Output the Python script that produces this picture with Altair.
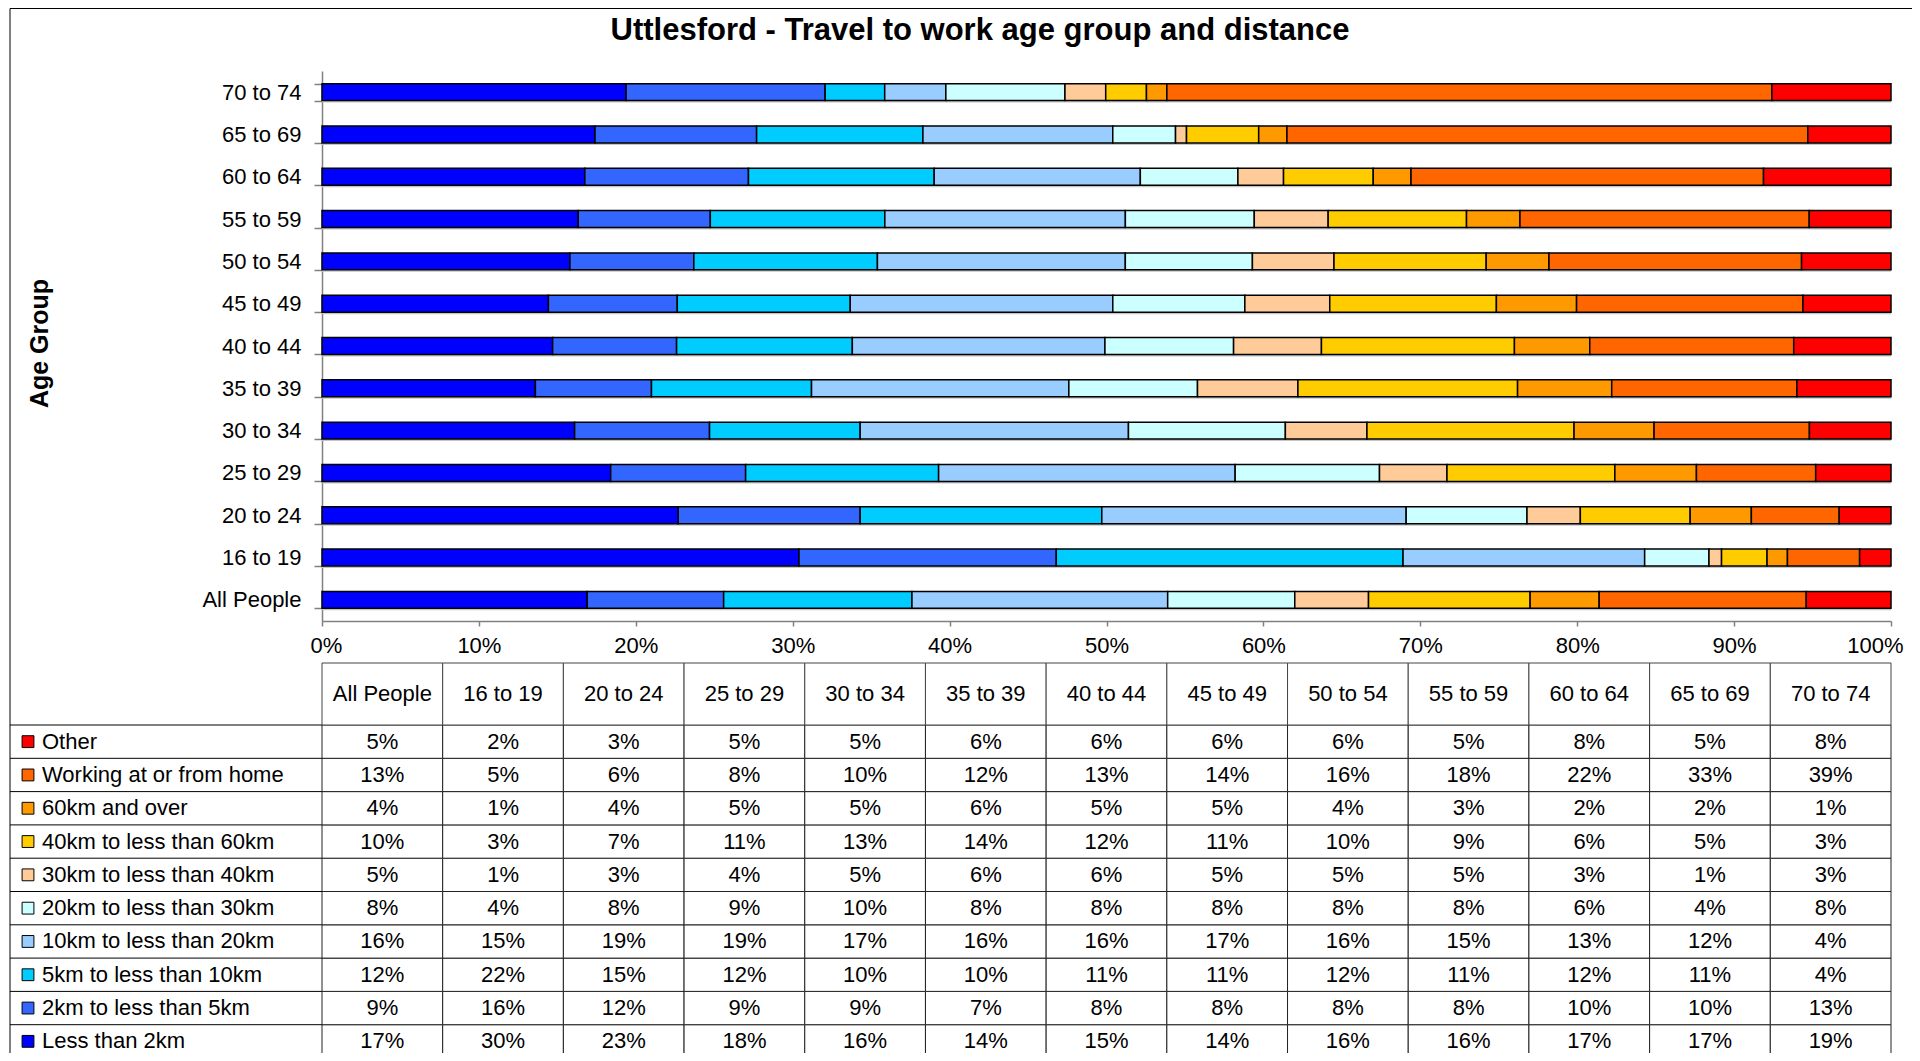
import altair as alt
import pandas as pd

ages = ["All People", "16 to 19", "20 to 24", "25 to 29", "30 to 34", "35 to 39",
        "40 to 44", "45 to 49", "50 to 54", "55 to 59", "60 to 64", "65 to 69", "70 to 74"]
categories = ["Less than 2km", "2km to less than 5km", "5km to less than 10km",
              "10km to less than 20km", "20km to less than 30km", "30km to less than 40km",
              "40km to less than 60km", "60km and over", "Working at or from home", "Other"]
colors = ["#0000FF", "#3366FF", "#00CCFF", "#99CCFF", "#CCFFFF", "#FFCC99",
          "#FFCC00", "#FF9900", "#FF6600", "#FF0000"]

# percentages per category, in the order of `ages`
less_than_2km = [16.9, 30.4, 22.7, 18.4, 16.1, 13.6, 14.7, 14.4, 15.8, 16.3, 16.7, 17.4, 19.4]
km_2_to_5 = [8.7, 16.4, 11.6, 8.6, 8.6, 7.4, 7.9, 8.2, 7.9, 8.4, 10.4, 10.3, 12.7]
km_5_to_10 = [12.0, 22.1, 15.4, 12.3, 9.6, 10.2, 11.2, 11.0, 11.7, 11.1, 11.8, 10.6, 3.8]
km_10_to_20 = [16.3, 15.4, 19.4, 18.9, 17.1, 16.4, 16.1, 16.7, 15.8, 15.3, 13.1, 12.1, 3.9]
km_20_to_30 = [8.1, 4.1, 7.7, 9.2, 10.0, 8.2, 8.2, 8.4, 8.1, 8.2, 6.2, 4.0, 7.6]
km_30_to_40 = [4.7, 0.8, 3.4, 4.3, 5.2, 6.4, 5.6, 5.4, 5.2, 4.7, 2.9, 0.7, 2.6]
km_40_to_60 = [10.3, 2.9, 7.0, 10.7, 13.2, 14.0, 12.3, 10.6, 9.7, 8.8, 5.7, 4.6, 2.6]
km_60_plus = [4.4, 1.3, 3.9, 5.2, 5.1, 6.0, 4.8, 5.1, 4.0, 3.4, 2.4, 1.8, 1.3]
home = [13.2, 4.6, 5.6, 7.6, 9.9, 11.8, 13.0, 14.4, 16.1, 18.4, 22.4, 33.2, 38.6]
other = [5.4, 2.0, 3.3, 4.8, 5.2, 6.0, 6.2, 5.6, 5.7, 5.2, 8.1, 5.3, 7.6]

series = [less_than_2km, km_2_to_5, km_5_to_10, km_10_to_20, km_20_to_30,
          km_30_to_40, km_40_to_60, km_60_plus, home, other]
x_ticks = [0, 0.1, 0.2, 0.3, 0.4, 0.5, 0.6, 0.7, 0.8, 0.9, 1.0]
title_text = "Uttlesford - Travel to work age group and distance"

rows = []
for ci, (cat, vals) in enumerate(zip(categories, series)):
    for age, v in zip(ages, vals):
        rows.append({"age": age, "category": cat, "order": ci, "value": v})
df = pd.DataFrame(rows)

W = 1569
H = 982
BAR_H = 550
HEAD_TOP, HEAD_BOTTOM = 592, 654
TABLE_BOTTOM = 987
FONT = "Liberation Sans"
GRAY = "#808080"
FS = 22

color_enc = alt.Color("category:N", scale=alt.Scale(domain=categories, range=colors), legend=None)
bx_scale = alt.Scale(domain=[0, 1])
by_scale = alt.Scale(domain=ages[::-1], range=[0, BAR_H], paddingInner=0.6, paddingOuter=0.3)

x_axis = alt.Axis(format=".0%", values=x_ticks, offset=BAR_H - H,
                  labelFlush=True, labelFlushOffset=12,
                  grid=False, domainColor=GRAY, domainWidth=1.5, tickColor=GRAY,
                  tickWidth=1.5, tickSize=5, labelFontSize=FS, labelPadding=9,
                  labelColor="black", title=None)
y_axis = alt.Axis(title="Age Group", labelFontSize=FS, labelPadding=13, tickSize=8,
                  tickColor=GRAY, tickWidth=1.5, domainColor=GRAY, domainWidth=1.5,
                  tickBand="extent", labelColor="black",
                  titleFontSize=25, titleFontWeight="bold", titleAngle=270,
                  titleX=-283, titleY=272, titleAlign="center",
                  titleBaseline="middle", titleColor="black")

bar_x = alt.X("value:Q", stack="normalize", scale=bx_scale, axis=x_axis, title=None)
bar_y = alt.Y("age:N", scale=by_scale, axis=y_axis, title="Age Group")

shadow = alt.Chart(df).mark_bar(color="#c4c4c4", yOffset=2).encode(
    x=bar_x, y=bar_y, order=alt.Order("order:Q"),
)

bars = alt.Chart(df).mark_bar(stroke="black", strokeWidth=1.5).encode(
    x=bar_x, y=bar_y, color=color_enc, order=alt.Order("order:Q"),
)

bar_layer = alt.layer(shadow, bars)

tx_scale = alt.Scale(domain=ages, paddingInner=0, paddingOuter=0)
ty_scale = alt.Scale(domain=categories[::-1], range=[HEAD_BOTTOM, TABLE_BOTTOM],
                     paddingInner=0, paddingOuter=0)
tbl_x = alt.X("age:N", scale=tx_scale, axis=None)
tbl_y = alt.Y("category:N", scale=ty_scale, axis=None)

cells = alt.Chart(df).mark_rect(fill="white", stroke="#222222", strokeWidth=1).encode(x=tbl_x, y=tbl_y)
cell_text = alt.Chart(df).transform_calculate(
    label="round(datum.value) + '%'"
).mark_text(fontSize=FS, color="black").encode(x=tbl_x, y=tbl_y, text="label:N")

header_df = pd.DataFrame({"age": ages})
header_rect = alt.Chart(header_df).mark_rect(fill="white", stroke="#444444", strokeWidth=1).encode(
    x=tbl_x, y=alt.value(HEAD_TOP), y2=alt.value(HEAD_BOTTOM))
header_text = alt.Chart(header_df).mark_text(fontSize=FS, color="black").encode(
    x=tbl_x, y=alt.value((HEAD_TOP + HEAD_BOTTOM) / 2), text="age:N")

lab_df = pd.DataFrame({"category": categories})
row_lines = alt.Chart(lab_df).mark_rule(color="black", strokeWidth=1).encode(
    x=alt.value(-312), x2=alt.value(0),
    y=alt.Y("category:N", bandPosition=0, scale=ty_scale, axis=None))
swatches = alt.Chart(lab_df).mark_square(size=140, stroke="black", strokeWidth=1, opacity=1).encode(
    x=alt.value(-294), y=tbl_y, color=color_enc)
row_text = alt.Chart(lab_df).mark_text(align="left", fontSize=FS, color="black").encode(
    x=alt.value(-280), y=tbl_y, text="category:N")

table = alt.layer(cells, header_rect, header_text, cell_text, row_lines, swatches, row_text)

one = pd.DataFrame({"t": [title_text]})
left_border = alt.Chart(one).mark_rule(color="black", strokeWidth=1).encode(
    x=alt.value(-312), y=alt.value(-62.5), y2=alt.value(H + 10))
top_border = alt.Chart(one).mark_rule(color="black", strokeWidth=1).encode(
    x=alt.value(-312), x2=alt.value(W + 30), y=alt.value(-62.5))
title_mark = alt.Chart(one).mark_text(fontSize=31, fontWeight="bold", color="black").encode(
    x=alt.value(658), y=alt.value(-40), text="t:N")

chart = alt.layer(bar_layer, table, left_border, top_border, title_mark).resolve_scale(
    x="independent", y="independent"
).properties(
    width=W, height=H,
    autosize=alt.AutoSizeParams(type="none"),
    padding={"left": 314, "top": 63, "right": 21, "bottom": 0},
).configure(font=FONT).configure_view(stroke=None)

chart.save("out.html", embed_options={"renderer": "svg", "actions": False})
